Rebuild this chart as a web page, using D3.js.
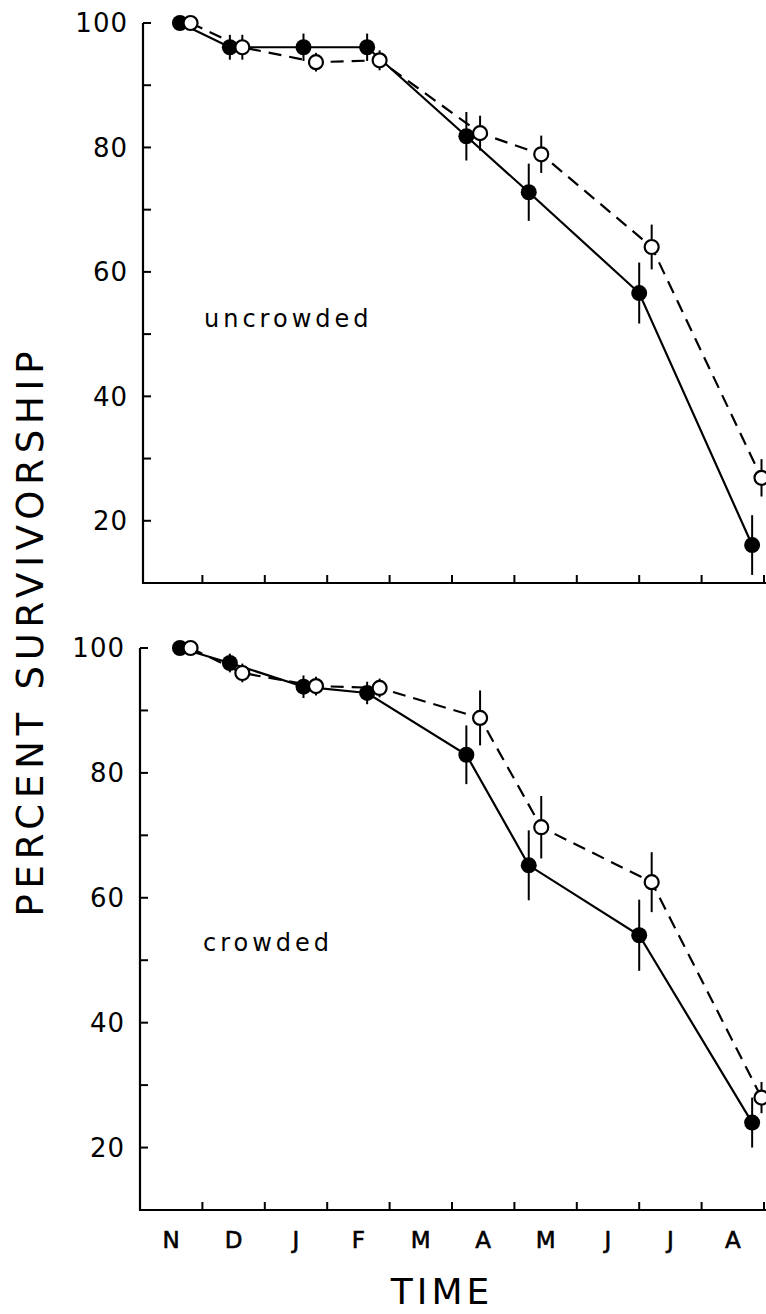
<!DOCTYPE html>
<html>
<head>
<meta charset="utf-8">
<script src="https://cdn.jsdelivr.net/npm/d3@7"></script>
<style>
  body { margin: 0; background: #fff; }
  svg { display: block; }
</style>
</head>
<body>
<div id="chart"></div>
<script>
// months along the time axis (band between ticks)
const months = ["N", "D", "J", "F", "M", "A", "M", "J", "J", "A"];
const yTickValues = [20, 30, 40, 50, 60, 70, 80, 90, 100];
const yLabelValues = [20, 40, 60, 80, 100];

// sampling dates, in months after 1 November
const filledTimes = [0.64, 1.44, 2.62, 3.64, 5.23, 6.23, 8.0, 9.81];
const openTimes = [0.81, 1.64, 2.82, 3.84, 5.45, 6.43, 8.2, 9.96];

// uncrowded panel
const uncrowdedFilled = [100, 96.1, 96.1, 96.1, 81.8, 72.8, 56.6, 16.1];
const uncrowdedFilledErr = [0, 2, 2.2, 2.2, 3.9, 4.6, 4.9, 4.8];
const uncrowdedOpen = [100, 96.1, 93.7, 94.0, 82.3, 78.9, 64.0, 26.9];
const uncrowdedOpenErr = [0, 2, 1.5, 1.6, 2.8, 3, 3.6, 3];

// crowded panel
const crowdedFilled = [100, 97.6, 93.8, 92.8, 82.9, 65.2, 54.0, 24.0];
const crowdedFilledErr = [0, 1.5, 1.8, 1.8, 4.7, 5.6, 5.7, 4];
const crowdedOpen = [100, 96.0, 93.9, 93.6, 88.8, 71.3, 62.5, 28.0];
const crowdedOpenErr = [0, 1.5, 1.5, 1.5, 4.4, 5, 4.8, 2.5];

const W = 766, H = 1314;
const font = "DejaVu Sans, sans-serif";

const svg = d3.select("#chart").append("svg")
    .attr("width", W)
    .attr("height", H);

// shared time scale
const x = d3.scaleLinear().domain([0, 10]).range([140, 764]);

function drawPanel(opts) {
    const y = d3.scaleLinear().domain([10, 100]).range([opts.bottom, opts.top]);
    const g = svg.append("g");

    const toPts = (times, vals, errs) => times.map((t, i) => ({t: t, v: vals[i], e: errs[i]}));
    const filled = toPts(filledTimes, opts.filled, opts.filledErr);
    const open = toPts(openTimes, opts.open, opts.openErr);

    // y axis
    g.append("line")
        .attr("x1", opts.axisX).attr("x2", opts.axisX)
        .attr("y1", y(100)).attr("y2", opts.bottom)
        .attr("stroke", "#000").attr("stroke-width", 2.2);
    g.selectAll(".ytick").data(yTickValues).join("line")
        .attr("x1", opts.axisX).attr("x2", opts.axisX + 8)
        .attr("y1", d => y(d)).attr("y2", d => y(d))
        .attr("stroke", "#000").attr("stroke-width", 2);
    g.selectAll(".ylab").data(yLabelValues).join("text")
        .attr("x", opts.axisX - 15)
        .attr("y", d => y(d))
        .attr("dy", "0.36em")
        .attr("text-anchor", "end")
        .style("font-family", font)
        .style("font-size", "26px")
        .style("letter-spacing", "1px")
        .text(d => d);

    // x axis
    g.append("line")
        .attr("x1", opts.axisX - 1).attr("x2", 780)
        .attr("y1", opts.bottom).attr("y2", opts.bottom)
        .attr("stroke", "#000").attr("stroke-width", 2.2);
    g.selectAll(".xtick").data(d3.range(1, 11)).join("line")
        .attr("x1", d => x(d)).attr("x2", d => x(d))
        .attr("y1", opts.bottom).attr("y2", opts.bottom - 8)
        .attr("stroke", "#000").attr("stroke-width", 2);

    // lines
    const line = d3.line().x(d => x(d.t)).y(d => y(d.v));
    g.append("path").datum(open)
        .attr("d", line)
        .attr("fill", "none").attr("stroke", "#000")
        .attr("stroke-width", 2.2)
        .attr("stroke-dasharray", "13,8");
    g.append("path").datum(filled)
        .attr("d", line)
        .attr("fill", "none").attr("stroke", "#000")
        .attr("stroke-width", 2.2);

    // error bars
    const bars = filled.concat(open).filter(d => d.e > 0);
    g.selectAll(".err").data(bars).join("line")
        .attr("x1", d => x(d.t)).attr("x2", d => x(d.t))
        .attr("y1", d => y(d.v + d.e)).attr("y2", d => y(d.v - d.e))
        .attr("stroke", "#000").attr("stroke-width", 2);

    // points
    g.selectAll(".filled").data(filled).join("circle")
        .attr("cx", d => x(d.t)).attr("cy", d => y(d.v))
        .attr("r", 8).attr("fill", "#000");
    g.selectAll(".open").data(open).join("circle")
        .attr("cx", d => x(d.t)).attr("cy", d => y(d.v))
        .attr("r", 7).attr("fill", "#fff")
        .attr("stroke", "#000").attr("stroke-width", 2.2);

    // panel label
    g.append("text")
        .attr("x", opts.labelX).attr("y", opts.labelY)
        .style("font-family", font)
        .style("font-size", "24px")
        .style("letter-spacing", "4px")
        .text(opts.label);

    return y;
}

drawPanel({
    top: 23, bottom: 583, axisX: 143,
    filled: uncrowdedFilled, filledErr: uncrowdedFilledErr,
    open: uncrowdedOpen, openErr: uncrowdedOpenErr,
    label: "uncrowded", labelX: 204, labelY: 327
});

drawPanel({
    top: 648, bottom: 1210, axisX: 140,
    filled: crowdedFilled, filledErr: crowdedFilledErr,
    open: crowdedOpen, openErr: crowdedOpenErr,
    label: "crowded", labelX: 203, labelY: 951
});

// month labels under the lower panel
svg.selectAll(".month").data(months).join("text")
    .attr("x", (d, i) => x(i + 0.5))
    .attr("y", 1248)
    .attr("text-anchor", "middle")
    .style("font-family", font)
    .style("font-size", "23px")
    .attr("stroke", "#000")
    .attr("stroke-width", 0.6)
    .text(d => d);

// axis titles
svg.append("text")
    .attr("x", 442).attr("y", 1304)
    .attr("text-anchor", "middle")
    .style("font-family", font)
    .style("font-size", "36px")
    .style("letter-spacing", "4px")
    .text("TIME");

svg.append("text")
    .attr("transform", "translate(43,634) rotate(-90)")
    .attr("text-anchor", "middle")
    .attr("textLength", 565)
    .attr("lengthAdjust", "spacing")
    .style("font-family", font)
    .style("font-size", "37px")
    .text("PERCENT  SURVIVORSHIP");
</script>
</body>
</html>
